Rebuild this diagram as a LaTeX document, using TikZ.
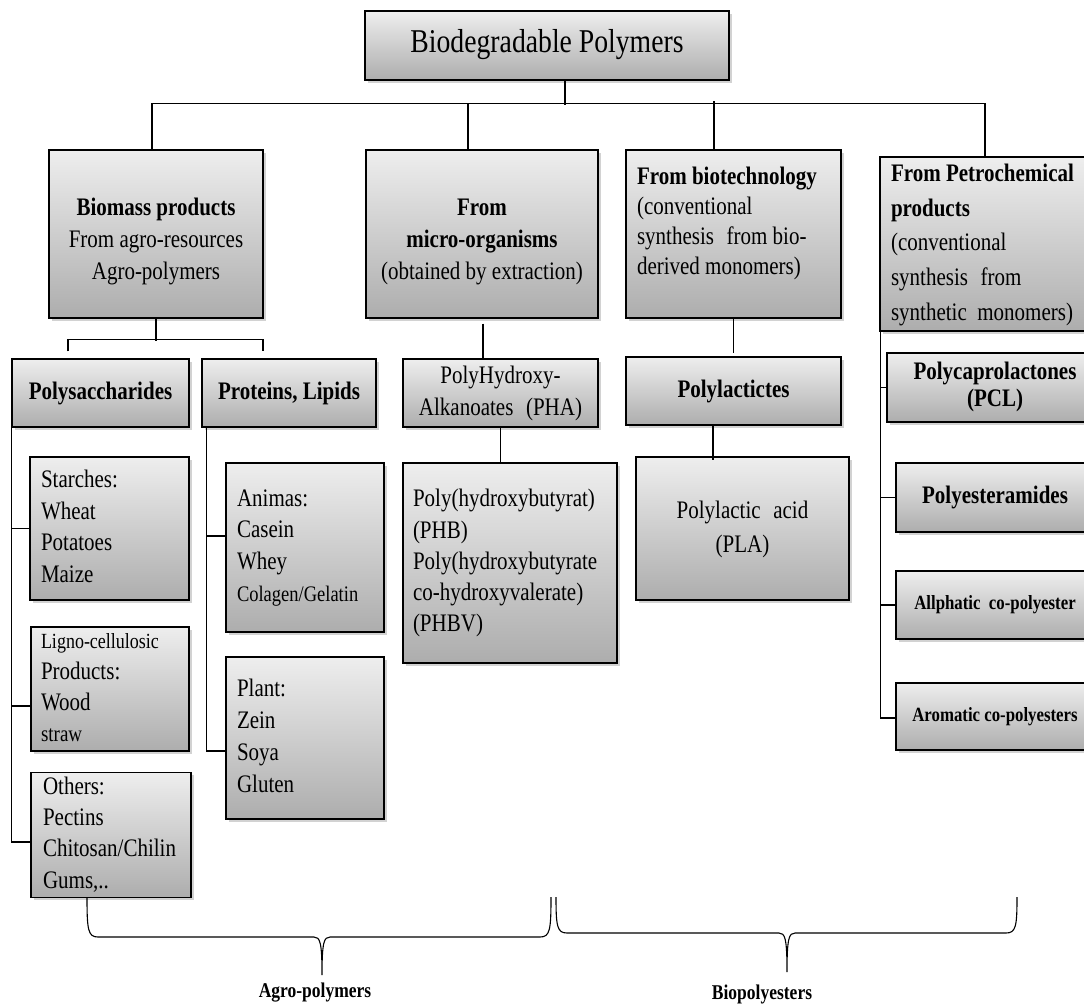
\documentclass[tikz,border=0pt]{standalone}
\usepackage{fontspec}
\setmainfont{Liberation Serif}
\usepackage{graphicx}
\usetikzlibrary{shadows,calc}
\definecolor{boxtop}{HTML}{EEEEEE}
\definecolor{boxbot}{HTML}{ADADAD}
\newcommand{\mytx}[4][c]{\scalebox{1}[1.2]{\fontsize{#2}{#3}\selectfont\begin{tabular}{@{}#1@{}}#4\end{tabular}}}
\newcommand{\mylt}[4]{\makebox[#1][l]{\mytx[l]{#2}{#3}{#4}}}
\tikzset{
  box/.style={draw=black, line width=1.2pt, top color=boxtop, bottom color=boxbot,
    inner sep=0pt, drop shadow={shadow xshift=2.5pt, shadow yshift=-2.5pt, opacity=0.35}},
  conn/.style={line width=1.2pt},
  brc/.style={line width=1.1pt},
  lbl/.style={inner sep=0pt}
}
\begin{document}
\begin{tikzpicture}[x=1pt,y=-1pt]
\fill[white] (0,0) rectangle (1084,1005);
\useasboundingbox (0,0) rectangle (1084,1005);

% level 0
\node[box, minimum width=364pt, minimum height=69pt] (top) at (547,45.5) {\mytx{27.7}{30}{Biodegradable Polymers}};

% level 1
\node[box, minimum width=214pt, minimum height=168pt] (bio) at (156,234) {\mytx{21}{26.5}{\rule{0pt}{30pt}\textbf{Biomass products}\\From agro-resources\\Agro-polymers}};
\node[box, minimum width=232pt, minimum height=168pt] (micro) at (482,234) {\mytx{21}{26.5}{\rule{0pt}{30pt}\textbf{From}\\\textbf{micro-organisms}\\(obtained by extraction)}};
\node[box, minimum width=215pt, minimum height=168pt] (biotech) at (733.5,234) {\mylt{193pt}{21}{25}{\textbf{From biotechnology}\\(conventional\\synthesis\hspace{0.6em}from bio-\\derived monomers)\\[18pt]}};
\node[box, minimum width=210pt, minimum height=160pt] (petro) at (985,244) {\mylt{188pt}{21}{29}{\textbf{From Petrochemical}\\\textbf{products}\\(conventional\\synthesis\hspace{0.6em}from\\synthetic\hspace{0.5em}monomers)}};

% level 2
\node[box, minimum width=177pt, minimum height=68pt] (poly) at (100.5,393) {\mytx{21}{26}{\textbf{Polysaccharides}}};
\node[box, minimum width=174pt, minimum height=68pt] (prot) at (289,393) {\mytx{21}{26}{\textbf{Proteins, Lipids}}};
\node[box, minimum width=195pt, minimum height=68pt] (pha) at (500.5,393) {\mytx{21}{26.5}{PolyHydroxy-\\Alkanoates\hspace{0.6em}(PHA)}};
\node[box, minimum width=215pt, minimum height=68pt] (plt) at (733.5,391) {\mytx{21}{26}{\textbf{Polylactictes}}};
\node[box, minimum width=216pt, minimum height=69pt] (pcl) at (995,387.5) {\mytx{21}{22.5}{\textbf{Polycaprolactones}\\\textbf{(PCL)}}};
\node[box, minimum width=198pt, minimum height=69pt] (pea) at (995,497.5) {\mytx{21}{26}{\textbf{Polyesteramides}}};
\node[box, minimum width=198pt, minimum height=68pt] (ali) at (995,605) {\mytx{16.8}{20}{\textbf{Allphatic\hspace{0.5em}co-polyester}}};
\node[box, minimum width=198pt, minimum height=67pt] (aro) at (995,716.5) {\mytx{16.8}{20}{\textbf{Aromatic co-polyesters}}};

% level 3
\node[box, minimum width=159pt, minimum height=143pt] (starch) at (109.5,528.5) {\mylt{137pt}{21}{26.25}{Starches:\\Wheat\\Potatoes\\Maize}};
\node[box, minimum width=158pt, minimum height=124pt] (ligno) at (110,689) {\mylt{138pt}{21}{25.8}{{\fontsize{18}{25.8}\selectfont Ligno-cellulosic}\\Products:\\Wood\\{\fontsize{19}{25.8}\selectfont straw}}};
\node[box, minimum width=160pt, minimum height=122pt] (others) at (111,835) {\mylt{136pt}{21}{26}{Others:\\Pectins\\Chitosan/Chilin\\Gums,..}};
\node[box, minimum width=158pt, minimum height=169pt] (animas) at (305,547.5) {\mylt{136pt}{21}{26.5}{Animas:\\Casein\\Whey\\{\fontsize{18.5}{26.5}\selectfont Colagen/Gelatin}}};
\node[box, minimum width=158pt, minimum height=162pt] (plant) at (305,738) {\mylt{136pt}{21}{26.5}{Plant:\\Zein\\Soya\\Gluten}};
\node[box, minimum width=214pt, minimum height=200pt] (phb) at (510,563) {\mylt{194pt}{21}{26}{Poly(hydroxybutyrat)\\(PHB)\\Poly(hydroxybutyrate\\co-hydroxyvalerate)\\(PHBV)}};
\node[box, minimum width=213pt, minimum height=143pt] (pla) at (742.5,528.5) {\mytx{21}{28}{Polylactic\hspace{0.6em}acid\\(PLA)}};

% connectors
\draw[conn] ([xshift=18pt]top.south) -- ++(0pt,-24pt);
\draw[conn] ([xshift=-4pt]bio.north) -- ++(0pt,46pt) -| (petro.north);
\draw[conn] ([xshift=-14pt]micro.north) -- ++(0pt,46pt);
\draw[conn] ([xshift=-19.5pt]biotech.north) -- ++(0pt,48pt);

\draw[conn] (bio.south) -- ++(0pt,-22pt);
\draw[conn] ([shift={(-32.5pt,7pt)}]poly.north) -- ++(0pt,12pt) -| ([shift={(-26pt,7pt)}]prot.north);
\draw[conn] ([shift={(1pt,-5pt)}]micro.south) -- ++(0pt,-34pt);
\draw[conn] (biotech.south) -- ++(0pt,-34pt);
\draw[conn] ([xshift=-20.5pt]plt.south) -- ++(0pt,-34pt);
\draw[conn] (pha.south) -- (pha.south |- phb.north);

\draw[conn] (poly.south west) |- (starch.west);
\draw[conn] (poly.south west) |- ([yshift=-17pt]ligno.west);
\draw[conn] (poly.south west) |- ([yshift=-7pt]others.west);

\draw[conn] ([xshift=5pt]prot.south west) |- ([yshift=11.5pt]animas.west);
\draw[conn] ([xshift=5pt]prot.south west) |- ([yshift=-13pt]plant.west);

\draw[conn] ([xshift=1pt]petro.south west) |- (pcl.west);
\draw[conn] ([xshift=1pt]petro.south west) |- (pea.west);
\draw[conn] ([xshift=1pt]petro.south west) |- (ali.west);
\draw[conn] ([xshift=1pt]petro.south west) |- ([yshift=-1.5pt]aro.west);

% braces
\draw[brc] (87,897) .. controls (87,930) and (88,937) .. (98,937) -- (314,937)
  .. controls (320,937) and (322,942) .. (322,975)
  .. controls (322,942) and (324,937) .. (330,937) -- (540,937)
  .. controls (550,937) and (551,930) .. (551,897);
\draw[brc] (556,897) .. controls (556,926) and (557,933) .. (567,933) -- (779,933)
  .. controls (785,933) and (787,938) .. (787,972)
  .. controls (787,938) and (789,933) .. (795,933) -- (1006,933)
  .. controls (1016,933) and (1017,926) .. (1017,897);

\node[lbl] (agro) at (315,993) {\mytx{17.5}{20}{\textbf{Agro-polymers}}};
\node[lbl] (biop) at (762,995) {\mytx{17.5}{20}{\textbf{Biopolyesters}}};
\end{tikzpicture}
\end{document}
